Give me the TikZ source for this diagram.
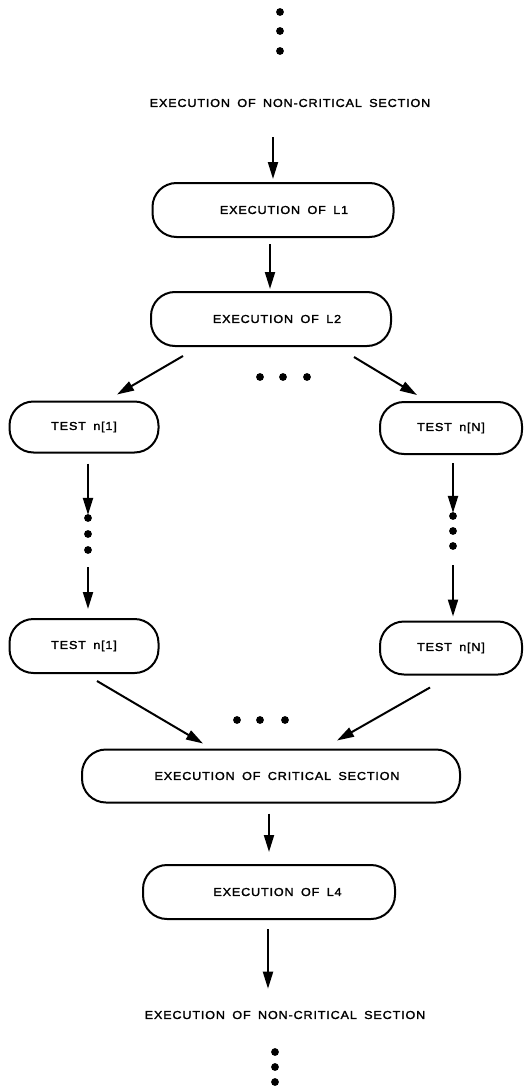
\documentclass[tikz,border=0pt]{standalone}
\usepackage{fontspec}
\setmainfont{Liberation Sans}
\newfontfamily\labfont[LetterSpace=7, FakeStretch=1.1, WordSpace=1.7, FakeBold=1.8]{Liberation Sans}
\usetikzlibrary{arrows.meta,calc}
\begin{document}
\begin{tikzpicture}[x=1pt,y=-1pt,
  every node/.style={font=\labfont\fontsize{11.5}{13}\selectfont},
  pill/.style={draw, line width=2pt, rounded corners=24pt, inner sep=0pt, align=center},
  lab/.style={inner sep=0pt},
  dot/.style={circle, fill, inner sep=0pt, minimum size=7.8pt},
  arr/.style={line width=2pt, -{Triangle[length=17pt,width=10pt]}}]
\useasboundingbox (0,0) rectangle (527,1089);
% top dots
\node[dot] (ta) at (280,12) {};
\node[dot] (tb) at (280,31) {};
\node[dot] (tc) at (280,51) {};
\node[lab] (top) at (290,103) {EXECUTION OF NON-CRITICAL SECTION};
\node[pill, minimum width=241pt, minimum height=54pt] (l1) at (273,210) {\hspace*{22pt}EXECUTION OF L1};
\node[pill, minimum width=240pt, minimum height=54pt] (l2) at (271,319) {\hspace*{12pt}EXECUTION OF L2};
\node[dot] (ma) at (260,377) {};
\node[dot] (mb) at (283,377) {};
\node[dot] (mc) at (307,377) {};
\node[pill, minimum width=149pt, minimum height=51pt] (t1a) at (84,427) {TEST n[1]};
\node[pill, minimum width=142pt, minimum height=52pt] (tna) at (451,428) {TEST n[N]};
\node[dot] (la) at (88,518) {};
\node[dot] (lb) at (88,534) {};
\node[dot] (lc) at (88,550) {};
\node[dot] (ra) at (453,516) {};
\node[dot] (rb) at (453,531) {};
\node[dot] (rc) at (453,546) {};
\node[pill, minimum width=149pt, minimum height=54pt] (t1b) at (84,646) {TEST n[1]};
\node[pill, minimum width=142pt, minimum height=53pt] (tnb) at (451,648) {TEST n[N]};
\node[dot] (ca) at (237,720) {};
\node[dot] (cb) at (260,720) {};
\node[dot] (cc) at (285,720) {};
\node[pill, minimum width=378pt, minimum height=53pt] (crit) at (271,776) {\hspace*{12pt}EXECUTION OF CRITICAL SECTION};
\node[pill, minimum width=252pt, minimum height=54pt] (l4) at (269,892) {\hspace*{17pt}EXECUTION OF L4};
\node[lab] (bot) at (285,1015) {EXECUTION OF NON-CRITICAL SECTION};
\node[dot] (ba) at (275,1052) {};
\node[dot] (bb) at (275,1067) {};
\node[dot] (bc) at (275,1082) {};
% connectors
\draw[arr, shorten <=30pt, shorten >=3pt] (top.south -| l1.north) -- (l1.north);
\draw[arr, shorten <=6pt, shorten >=2pt] (l1.south -| 270,0) -- (l2.north -| 270,0);
\draw[arr] ([shift={(33,9)}]l2.south west) -- ([shift={(33,-6)}]t1a.north);
\draw[arr] ([shift={(-38,10)}]l2.south east) -- ([shift={(-34,-6)}]tna.north);
\draw[arr, shorten <=10pt, shorten >=-1pt] (t1a.south -| la) -- (la.north);
\draw[arr, shorten <=13pt, shorten >=9pt] (lc.south) -- (lc |- t1b.north);
\draw[arr, shorten <=8pt, shorten >=-1pt] (tna.south -| ra) -- (ra.north);
\draw[arr, shorten <=15pt, shorten >=4pt] (rc.south) -- (rc |- tnb.north);
\draw[arr] ([shift={(13,7)}]t1b.south) -- ([shift={(-68,-5)}]crit.north);
\draw[arr] ([shift={(-21,12)}]tnb.south) -- ([shift={(66,-8)}]crit.north);
\draw[arr, shorten <=10pt, shorten >=12pt] (crit.south -| 269,0) -- (l4.north -| 269,0);
\draw[arr, shorten <=9pt, shorten >=22pt] (l4.south -| 268,0) -- (bot.north -| 268,0);
\end{tikzpicture}
\end{document}
